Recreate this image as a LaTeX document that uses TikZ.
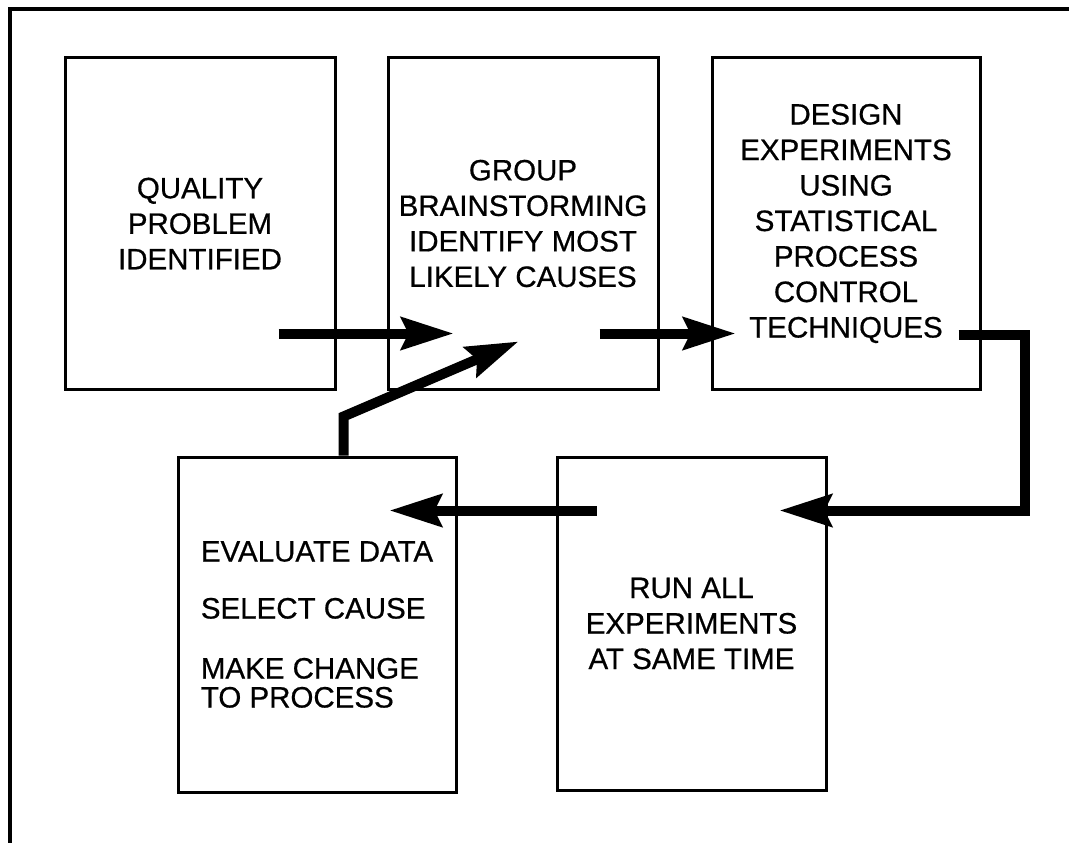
\documentclass[tikz,border=0pt]{standalone}
\usepackage{fontspec}
\setmainfont{Liberation Sans}[FakeBold=0.6]
\usetikzlibrary{arrows.meta,calc}

\begin{document}
\begin{tikzpicture}[x=1pt,y=-1pt,>={Stealth[length=52pt,width=32pt,inset=7pt]},
 box/.style={draw,line width=3pt,align=center,inner sep=0pt,
  font=\fontsize{29.5}{35.5}\selectfont},
 flow/.style={->,line width=10pt}]
 \useasboundingbox (0,0) rectangle (1069,843);
 \draw[line width=4pt] (1069,9) -- (10,9) -- (10,843);

 \node[box,minimum width=270pt,minimum height=331pt] (prob) at (200,223.5)
  {QUALITY\\PROBLEM\\IDENTIFIED};
 \node[box,minimum width=270pt,minimum height=331pt] (brain) at (523,223.5)
  {GROUP\\BRAINSTORMING\\IDENTIFY MOST\\LIKELY CAUSES};
 \node[box,minimum width=268pt,minimum height=331pt] (design) at (846,223.5)
  {DESIGN\\EXPERIMENTS\\USING\\STATISTICAL\\PROCESS\\CONTROL\\TECHNIQUES};
 \node[box,minimum width=269pt,minimum height=333pt] (run) at (691.5,623.5)
  {RUN ALL\\EXPERIMENTS\\AT SAME TIME};
 \node[box,align=left,minimum width=278pt,minimum height=335pt,
  font=\fontsize{29.5}{29}\selectfont] (eval) at (317,624.5)
  {EVALUATE DATA\\[28pt]SELECT CAUSE\\[31pt]MAKE CHANGE\\TO PROCESS};

 \coordinate (turn) at ($(design.south east)+(43,-56)$);
 \coordinate (bend) at ($(eval.north west)+(167,-39)$);

 \draw[flow] ($(prob.south east)+(-58,-57)$) -- ($(brain.south west)+(67,-57)$);
 \draw[flow] ($(brain.south east)+(-60,-57)$) -- ($(design.south west)+(25,-57)$);
 \draw[flow] ($(design.south east)+(-23,-56)$) -- (turn) |- ($(run.north east)+(-48,55)$);
 \draw[flow] ($(run.north west)+(41,55)$) -- ($(eval.north east)+(-68,55)$);
 \draw[flow] ($(eval.north west)+(167,0)$) -- (bend) -- ($(brain.south west)+(132,-49)$);
\end{tikzpicture}
\end{document}
